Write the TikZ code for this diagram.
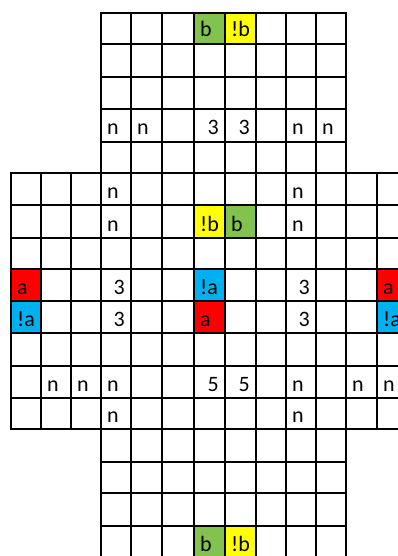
\documentclass[tikz,border=0pt]{standalone}
\usepackage{fontspec}
\setmainfont{Carlito}
\usepackage{tikz}
\usetikzlibrary{positioning}
\definecolor{gdInk}{HTML}{000000}
\definecolor{gdGreen}{HTML}{82C24F}
\definecolor{gdYellow}{HTML}{FFFF00}
\definecolor{gdRed}{HTML}{FF0000}
\definecolor{gdBlue}{HTML}{00B0F0}
\tikzset{
  gridline/.style ={gdInk,line width=1.7pt,line cap=rect},
  cellB/.style    ={fill=gdGreen},
  cellNB/.style   ={fill=gdYellow},
  cellA/.style    ={fill=gdRed},
  cellNA/.style   ={fill=gdBlue},
  ltr/.style      ={anchor=base west,inner sep=0pt,font=\fontsize{22}{24}\selectfont,text=gdInk},
  num/.style      ={anchor=base east,inner sep=0pt,font=\fontsize{22}{24}\selectfont,text=gdInk},
}

\begin{document}
\begin{tikzpicture}[x=1pt,y=-1pt]
\useasboundingbox (0,0) rectangle (398,556);
\clip (0,0) rectangle (398,556);

%% coloured cells
\fill[cellB]  (194,13) rectangle (225,44);
\fill[cellNB] (225,13) rectangle (256,44);
\fill[cellNB] (194,205) rectangle (225,238);
\fill[cellB]  (225,205) rectangle (256,238);
\fill[cellA]  (11,269) rectangle (41,301);
\fill[cellNA] (11,301) rectangle (41,333);
\fill[cellNA] (194,269) rectangle (225,301);
\fill[cellA]  (194,301) rectangle (225,333);
\fill[cellA]  (377,269) rectangle (407,301);
\fill[cellNA] (377,301) rectangle (407,333);
\fill[cellB]  (194,526) rectangle (225,558);
\fill[cellNB] (225,526) rectangle (256,558);

%% vertical arm
\foreach \x in {101,131,162,194,225,256,286,316,346}
  \draw[gridline] (\x,13) -- (\x,558);
\foreach \y in {13,44,77,109,142,173,205,238,269,301,333,366,398,429,462,493,526,558}
  \draw[gridline] (101,\y) -- (346,\y);

%% horizontal band
\foreach \y in {173,205,238,269,301,333,366,398,429}
  \draw[gridline] (11,\y) -- (437,\y);
\foreach \x in {11,41,71,377,407,437}
  \draw[gridline] (\x,173) -- (\x,429);

%% row 1
\node[ltr] (topb)  at (200,37) {b};
\node[ltr] (topnb) at (231,37) {!b};

%% row 4
\node[ltr] (ua) at (107,135) {n};
\node[ltr] (ub) at (137,135) {n};
\node[num] (uc) at (219,135) {3};
\node[num] (ud) at (250,135) {3};
\node[ltr] (ue) at (292,135) {n};
\node[ltr] (uf) at (322,135) {n};

%% rows 6-7
\node[ltr] (va) at (107,198) {n};
\node[ltr] (vb) at (292,198) {n};
\node[ltr] (wa) at (107,231) {n};
\node[ltr] (wb) at (200,231) {!b};
\node[ltr] (wc) at (231,231) {b};
\node[ltr] (wd) at (292,231) {n};

%% rows 9-10
\node[ltr] (xa) at (17,294) {a};
\node[num] (xb) at (125,294) {3};
\node[ltr] (xc) at (200,294) {!a};
\node[num] (xd) at (310,294) {3};
\node[ltr] (xe) at (383,294) {a};
\node[ltr] (ya) at (17,326) {!a};
\node[num] (yb) at (125,326) {3};
\node[ltr] (yc) at (200,326) {a};
\node[num] (yd) at (310,326) {3};
\node[ltr] (ye) at (383,326) {!a};

%% rows 12-13
\node[ltr] (za) at (47,391) {n};
\node[ltr] (zb) at (77,391) {n};
\node[ltr] (zc) at (107,391) {n};
\node[num] (zd) at (219,391) {5};
\node[num] (ze) at (250,391) {5};
\node[ltr] (zf) at (292,391) {n};
\node[ltr] (zg) at (352,391) {n};
\node[ltr] (zh) at (383,391) {n};
\node[ltr] (qa) at (107,422) {n};
\node[ltr] (qb) at (292,422) {n};

%% last row
\node[ltr] (botb)  at (200,551) {b};
\node[ltr] (botnb) at (231,551) {!b};
\end{tikzpicture}
\end{document}
